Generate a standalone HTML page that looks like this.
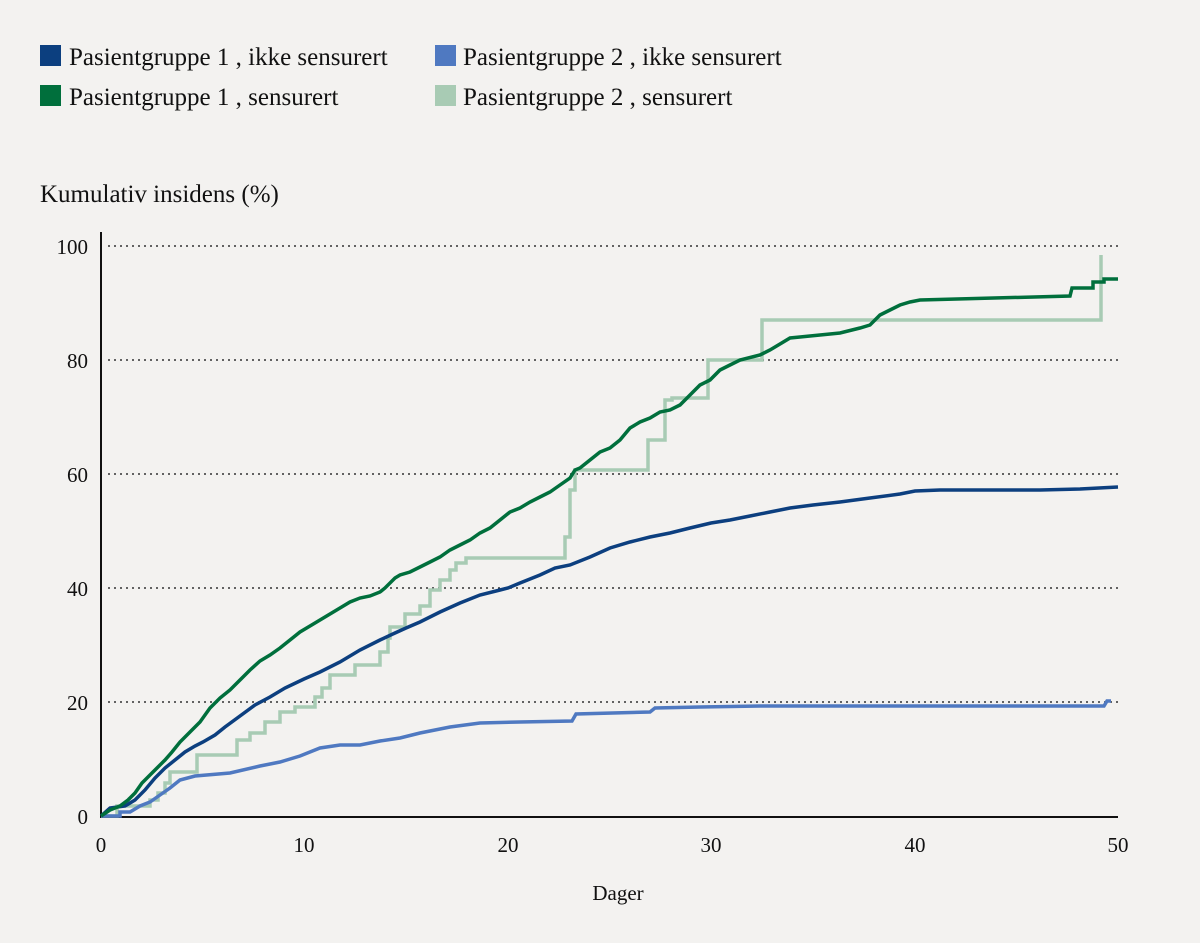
<!DOCTYPE html>
<html><head><meta charset="utf-8"><style>
body{margin:0;background:#f3f2f0;}
svg{display:block;font-family:"Liberation Serif",serif;}
</style></head><body>
<svg width="1200" height="943" viewBox="0 0 1200 943">
<rect width="1200" height="943" fill="#f3f2f0"/>
<g font-size="25" fill="#111">
<rect x="40" y="45" width="21" height="21" fill="#0c3f7f"/><text x="69" y="65">Pasientgruppe 1 , ikke sensurert</text>
<rect x="40" y="85" width="21" height="21" fill="#006f3c"/><text x="69" y="105">Pasientgruppe 1 , sensurert</text>
<rect x="435" y="45" width="21" height="21" fill="#4f79c1"/><text x="463" y="65">Pasientgruppe 2 , ikke sensurert</text>
<rect x="435" y="85" width="21" height="21" fill="#a8cbb4"/><text x="463" y="105">Pasientgruppe 2 , sensurert</text>
<text x="40" y="202">Kumulativ insidens (%)</text>
</g>
<g stroke="#333" stroke-width="1.5" stroke-dasharray="2,4">
<line x1="108" y1="246" x2="1118" y2="246"/><line x1="108" y1="360" x2="1118" y2="360"/>
<line x1="108" y1="474" x2="1118" y2="474"/><line x1="108" y1="588" x2="1118" y2="588"/>
<line x1="108" y1="702" x2="1118" y2="702"/>
</g>
<line x1="101" y1="232" x2="101" y2="817" stroke="#111" stroke-width="2"/>
<line x1="100" y1="817" x2="1118" y2="817" stroke="#111" stroke-width="2"/>
<g font-size="21" fill="#111" text-anchor="end">
<text x="88" y="254">100</text><text x="88" y="368">80</text><text x="88" y="482">60</text>
<text x="88" y="596">40</text><text x="88" y="710">20</text><text x="88" y="824">0</text>
</g>
<g font-size="21" fill="#111" text-anchor="middle">
<text x="101" y="852">0</text><text x="304" y="852">10</text><text x="508" y="852">20</text>
<text x="711" y="852">30</text><text x="915" y="852">40</text><text x="1118" y="852">50</text>
<text x="618" y="900">Dager</text>
</g>
<g fill="none" stroke-width="3.5" stroke-linejoin="miter">
<polyline stroke="#a8cbb4" points="101,816 117,816 117,806 150,806 150,800 158,800 158,793 165,793 165,783 170,783 170,772 197,772 197,755 237,755 237,740 250,740 250,733 265,733 265,722 280,722 280,712 295,712 295,707 315,707 315,697 322,697 322,688 330,688 330,675 355,675 355,665 380,665 380,652 388,652 388,638 390,638 390,627 405,627 405,614 420,614 420,606 430,606 430,590 440,590 440,580 450,580 450,570 456,570 456,563 466,563 466,558 565,558 565,537 570,537 570,490 575,490 575,470 648,470 648,440 665,440 665,400 672,400 672,398 690,398 690,398 708,398 708,360 762,360 762,320 1101,320 1101,255"/>
<polyline stroke="#4f79c1" points="101,816 120,816 120,812 130,812 140,806 150,802 160,795 170,788 180,780 195,776 230,773 260,766 280,762 300,756 320,748 340,745 360,745 380,741 400,738 420,733 450,727 480,723 520,722 572,721 576,714 650,712 655,708 700,707 760,706 1104,706 1107,701 1111,701"/>
<polyline stroke="#0c3f7f" points="101,816 110,808 125,806 135,800 145,790 155,778 165,768 175,760 185,752 195,746 203,742 215,735 225,727 240,716 255,705 270,697 285,688 304,679 320,672 340,662 360,650 380,640 395,633 406,628 420,622 440,612 460,603 480,595 500,590 508,588 520,583 540,575 555,568 570,565 590,557 610,548 630,542 650,537 670,533 690,528 711,523 730,520 750,516 770,512 790,508 813,505 840,502 870,498 900,494 915,491 940,490 980,490 1040,490 1080,489 1118,487"/>
<polyline stroke="#006f3c" points="101,816 110,810 120,806 128,800 135,793 142,783 150,775 158,767 165,760 172,752 180,742 190,732 200,722 210,708 220,698 230,690 240,680 250,670 260,661 270,655 280,648 290,640 300,632 310,626 320,620 330,614 340,608 350,602 360,598 370,596 380,592 385,588 395,578 400,575 410,572 420,567 430,562 440,557 450,550 460,545 470,540 480,533 490,528 500,520 510,512 520,508 530,502 540,497 550,492 560,485 570,478 575,470 580,468 590,460 600,452 610,448 620,440 630,428 640,422 650,418 660,412 670,410 680,405 690,395 700,385 710,380 720,370 730,365 740,360 760,355 770,350 780,344 790,338 800,337 820,335 840,333 860,328 870,325 880,315 890,310 900,305 910,302 920,300 1070,296 1072,288 1093,288 1093,282 1104,282 1104,279 1118,279"/>
</g>
</svg>
</body></html>
